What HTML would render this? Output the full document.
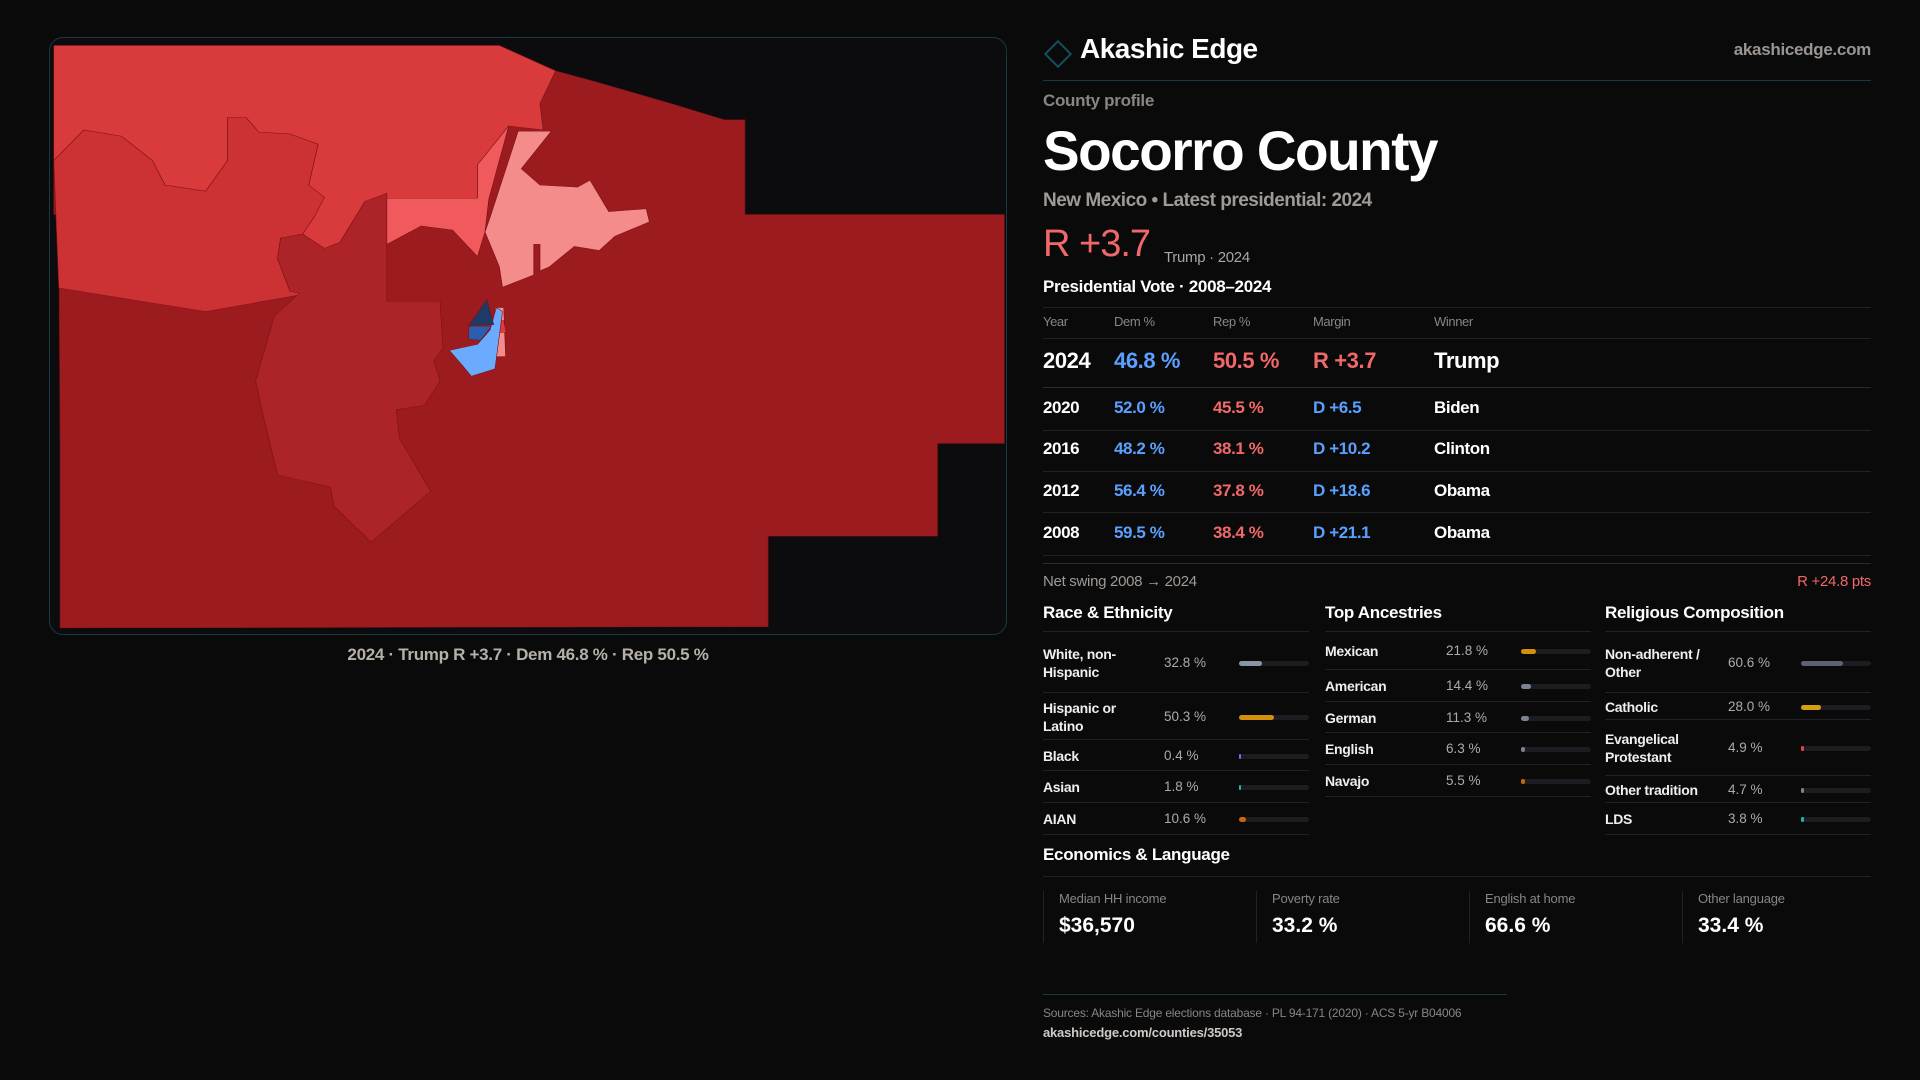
<!DOCTYPE html>
<html><head><meta charset="utf-8">
<style>
*{box-sizing:border-box;margin:0;padding:0}
body{width:1920px;height:1080px;background:#0a0a0b;position:relative;overflow:hidden;font-family:"Liberation Sans",sans-serif;color:#fff}
.a{position:absolute;white-space:nowrap}
.hl{position:absolute;height:1px;background:#222226}
.sec{position:absolute;width:266px}
.row{position:relative;border-bottom:1px solid #222226}
.rl{position:absolute;left:0;font-size:14px;font-weight:bold;color:#eee;line-height:18px;white-space:normal;width:110px;letter-spacing:-0.3px}
.rv{position:absolute;font-size:13.5px;color:#b0aaa5}
.tr{position:absolute;right:0;width:70px;height:5px;border-radius:3px;background:#1d1d21}
.fi{position:absolute;left:0;top:0;height:5px;border-radius:3px}
.card{position:absolute;top:891px;height:52px;border-left:1px solid #222226;padding-left:15px}
.cl{font-size:13px;color:#8a8580;letter-spacing:-0.2px}
.cv{font-size:21px;font-weight:bold;color:#fff;margin-top:8px}
</style></head><body>
<div style="position:absolute;left:49px;top:37px;width:958px;height:598px;border:1px solid #173a40;border-radius:14px;background:#0c0c0e;overflow:hidden"></div>
<svg style="position:absolute;left:40px;top:30px" width="980" height="640" viewBox="0 0 1568 1568" preserveAspectRatio="none">
<g stroke="#7a1015" stroke-width="1">
<polygon fill="#9b1b1f" points="22,38 735,38 825,100 885,125 1005,178 1095,220 1128,220 1128,452 1543,452 1543,1013 1436,1013 1436,1240 1165,1240 1165,1462 32,1465 32,1015 30,452 22,452"/>
<polygon fill="#d93a3c" points="22,38 735,38 825,100 800,180 805,245 750,235 700,330 700,412 555,412 520,420 480,520 455,535 420,500 440,455 430,380 445,280 400,255 350,250 330,215 300,215 300,320 265,395 200,380 180,320 130,260 70,245 22,320"/>
<polygon fill="#cc3234" points="22,320 70,245 130,260 180,320 200,380 265,395 300,320 300,215 330,215 350,250 400,255 445,280 430,380 455,410 440,455 420,500 385,510 380,560 400,640 430,645 265,690 30,632"/>
<polygon fill="#ad2428" points="385,510 420,500 455,535 480,520 520,420 555,400 555,665 640,665 645,780 630,810 640,860 615,920 570,930 575,1000 625,1130 530,1255 470,1165 465,1120 380,1090 355,930 345,860 375,700 415,645 400,640 380,560"/>
<polygon fill="#f05a5c" points="555,412 700,412 700,330 750,235 718,415 712,495 700,555 660,490 610,480 555,525"/>
<polygon fill="#f58c8c" points="765,248 818,248 770,340 800,380 860,385 880,368 910,445 970,438 975,470 920,505 895,540 855,530 815,580 800,590 800,525 790,525 790,600 740,630 735,580 712,495 720,460"/>
<polygon fill="#f58c8c" points="728,680 742,680 745,800 725,800"/>
<polygon fill="#e03a3c" points="728,708 742,712 746,740 732,742"/>
<polygon fill="#6aabff" points="655,785 700,770 720,735 730,680 740,690 728,830 690,848 675,820"/>
<polygon fill="#1e3a66" points="715,660 726,722 686,724"/>
<polygon fill="#2a5fb0" points="686,726 722,726 705,760 686,758"/>
</g></svg>
<div class="a" style="left:0;width:1056px;text-align:center;top:645px;font-size:17px;font-weight:bold;color:#b5b0a8;letter-spacing:-0.3px">2024 · Trump R +3.7 · Dem 46.8 % · Rep 50.5 %</div>

<div style="position:absolute;left:1048px;top:44px;width:20px;height:20px;border:2px solid #14505a;transform:rotate(45deg)"></div>
<div class="a" style="left:1080px;top:33px;font-size:28px;font-weight:bold;letter-spacing:-0.5px">Akashic Edge</div>
<div class="a" style="right:49px;top:40px;font-size:17px;font-weight:bold;color:#9a9590;letter-spacing:-0.3px">akashicedge.com</div>
<div class="hl" style="left:1043px;width:828px;top:80px;background:#173a40"></div>
<div class="a" style="left:1043px;top:91px;font-size:17px;font-weight:bold;color:#8a8580;letter-spacing:-0.3px">County profile</div>
<div class="a" style="left:1043px;top:118px;font-size:56px;font-weight:bold;letter-spacing:-1.5px;transform:scaleX(0.98);transform-origin:left">Socorro County</div>
<div class="a" style="left:1043px;top:190px;font-size:19px;font-weight:bold;color:#a09a95;letter-spacing:-0.5px">New Mexico • Latest presidential: 2024</div>
<div class="a" style="left:1043px;top:223px;font-size:38px;color:#f06868;letter-spacing:-1px">R +3.7</div>
<div class="a" style="left:1164px;top:249px;font-size:15px;color:#aaa5a0;letter-spacing:-0.3px">Trump · 2024</div>
<div class="a" style="left:1043px;top:277px;font-size:17px;font-weight:bold;letter-spacing:-0.3px">Presidential Vote · 2008–2024</div>
<div id="table"></div>
<div class="a" style="left:1043px;top:573px;font-size:15px;color:#a09a95;letter-spacing:-0.3px">Net swing 2008 → 2024</div>
<div class="a" style="right:49px;top:573px;font-size:15px;color:#f06868;letter-spacing:-0.3px">R +24.8 pts</div>
<div id="sections"></div>
<div class="a" style="left:1043px;top:845px;font-size:17px;font-weight:bold;letter-spacing:-0.3px">Economics &amp; Language</div>
<div class="hl" style="left:1043px;width:828px;top:876px"></div>
<div class="card" style="left:1043px"><div class="cl">Median HH income</div><div class="cv">$36,570</div></div>
<div class="card" style="left:1256px"><div class="cl">Poverty rate</div><div class="cv">33.2 %</div></div>
<div class="card" style="left:1469px"><div class="cl">English at home</div><div class="cv">66.6 %</div></div>
<div class="card" style="left:1682px"><div class="cl">Other language</div><div class="cv">33.4 %</div></div>
<div class="hl" style="left:1043px;width:464px;top:994px;background:#173a40"></div>
<div class="a" style="left:1043px;top:1006px;font-size:12px;color:#8a8580;letter-spacing:-0.2px">Sources: Akashic Edge elections database · PL 94-171 (2020) · ACS 5-yr B04006</div>
<div class="a" style="left:1043px;top:1025px;font-size:13px;font-weight:bold;color:#cfcac5;letter-spacing:-0.2px">akashicedge.com/counties/35053</div>
<script>
const years=["2024","2020","2016","2012","2008"];
const demPct=[46.8,52.0,48.2,56.4,59.5];
const repPct=[50.5,45.5,38.1,37.8,38.4];
const marginLabels=["R +3.7","D +6.5","D +10.2","D +18.6","D +21.1"];
const winners=["Trump","Biden","Clinton","Obama","Obama"];

const raceLabels=["White, non-Hispanic","Hispanic or Latino","Black","Asian","AIAN"];
const raceValues=[32.8,50.3,0.4,1.8,10.6];
const ancestryLabels=["Mexican","American","German","English","Navajo"];
const ancestryValues=[21.8,14.4,11.3,6.3,5.5];
const religionLabels=["Non-adherent / Other","Catholic","Evangelical Protestant","Other tradition","LDS"];
const religionValues=[60.6,28.0,4.9,4.7,3.8];

const t=document.getElementById('table');
function hl(y,c){const d=document.createElement('div');d.className='hl';d.style.left='1043px';d.style.width='828px';d.style.top=y+'px';if(c)d.style.background=c;


t.appendChild(d);}
function txt(x,y,s,size,col,bold,name){const d=document.createElement('div');d.className='a';d.textContent=s;d.style.left=x+'px';d.style.top=(y-size*0.58)+'px';d.style.fontSize=size+'px';d.style.color=col;if(bold)d.style.fontWeight='bold';d.style.letterSpacing='-0.4px';


t.appendChild(d);}
const cx=[1043,1114,1213,1313,1434];
hl(307);
["Year","Dem %","Rep %","Margin","Winner"].forEach((h,i)=>txt(cx[i],322,h,13,'#8a8580',false,'column-header'));
hl(338);
const rowCenters=[361,408,449,491,533];
const rowBottoms=[387,430,471,512,555];
years.forEach((y,i)=>{
 const sz=i===0?22:17;
 txt(cx[0],rowCenters[i],y,sz,'#fff',true,'year-cell');
 txt(cx[1],rowCenters[i],demPct[i].toFixed(1)+' %',sz,'#5aa0ff',true,'dem-cell');
 txt(cx[2],rowCenters[i],repPct[i].toFixed(1)+' %',sz,'#f06868',true,'rep-cell');
 txt(cx[3],rowCenters[i],marginLabels[i],sz,marginLabels[i][0]==='R'?'#f06868':'#5aa0ff',true,'margin-cell');
 txt(cx[4],rowCenters[i],winners[i],sz,'#fff',true,'winner-cell');
 hl(rowBottoms[i],i===0?'#2a2a2e':null);
});
hl(563,'#2a2a2e');

const S=document.getElementById('sections');
function section(x,title,labels,values,colors,heights,valX,name){
 const w=document.createElement('div');w.className='sec';w.style.left=x+'px';w.style.top='600px';
 
 
 const h=document.createElement('div');h.textContent=title;h.style.cssText='font-size:17px;font-weight:bold;height:32px;border-bottom:1px solid #222226;letter-spacing:-0.3px;padding-top:3px';
 
 
 w.appendChild(h);
 labels.forEach((l,i)=>{
  const r=document.createElement('div');r.className='row';r.style.height=heights[i]+'px';
  
  
  const lab=document.createElement('div');lab.className='rl';lab.textContent=l;
  const lines=l.length>15?2:1;lab.style.top=(heights[i]/2-lines*9)+'px';
  const v=document.createElement('div');v.className='rv';v.textContent=values[i].toFixed(1)+' %';v.style.left=valX+'px';v.style.top=(heights[i]/2-8)+'px';
  const tr=document.createElement('div');tr.className='tr';tr.style.top=(heights[i]/2-2)+'px';
  
  
  const f=document.createElement('div');f.className='fi';f.style.width=Math.max(2,values[i]/100*70)+'px';f.style.background=colors[i];
  
  
  tr.appendChild(f);r.appendChild(lab);r.appendChild(v);r.appendChild(tr);w.appendChild(r);
 });
 S.appendChild(w);
}
section(1043,"Race & Ethnicity",raceLabels,raceValues,["#8a94a8","#d4900a","#7a6af0","#2bb5a0","#c8680a"],[61,47,31,32,32],121,'race-section');
section(1325,"Top Ancestries",ancestryLabels,ancestryValues,["#d4900a","#7a8294","#7a8294","#7a8294","#c8680a"],[38,32,31,32,32],121,'ancestry-section');
section(1605,"Religious Composition",religionLabels,religionValues,["#5d6270","#d4a010","#e04848","#7a8294","#20b5b0"],[61,27,56,27,32],123,'religion-section');
</script>
</body></html>
